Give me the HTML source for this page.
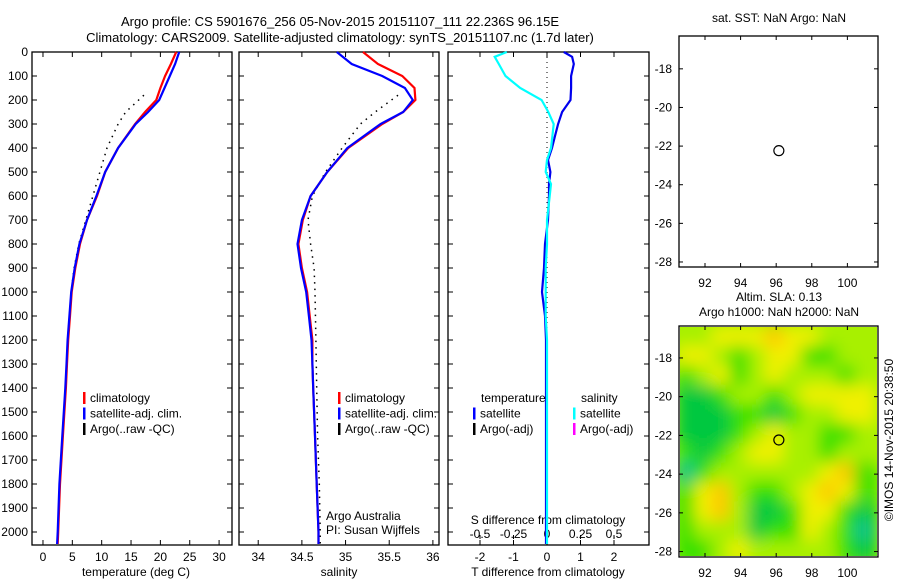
<!DOCTYPE html>
<html><head><meta charset="utf-8"><style>
html,body{margin:0;padding:0;background:#fff;}
svg{display:block;font-family:"Liberation Sans",sans-serif;}
text{font-size:12px;fill:#000;}
</style></head><body>
<svg id="fig" width="900" height="580" viewBox="0 0 900 580" xmlns="http://www.w3.org/2000/svg">
<text x="340" y="26" text-anchor="middle" style="font-size:13px">Argo profile: CS 5901676_256 05-Nov-2015 20151107_111 22.236S 96.15E</text>
<text x="340" y="42" text-anchor="middle" style="font-size:13px">Climatology: CARS2009. Satellite-adjusted climatology: synTS_20151107.nc (1.7d later)</text>
<text x="779" y="22" text-anchor="middle">sat. SST: NaN Argo: NaN</text>
<text x="779" y="301" text-anchor="middle">Altim. SLA: 0.13</text>
<text x="779" y="316" text-anchor="middle">Argo h1000: NaN h2000: NaN</text>
<text transform="translate(893,440) rotate(-90)" text-anchor="middle">©IMOS 14-Nov-2015 20:38:50</text>
<g id="g"></g>
</svg>
<script>
// ---- profile data ----
const depths      = [0,50,100,150,200,250,300,400,500,600,700,800,900,1000,1100,1200,1300,1400,1600,1800,2000,2050];
const tempClim    = [22.7,21.8,20.8,20.0,19.3,17.4,15.7,12.8,10.6,9.2,7.5,6.3,5.5,4.9,4.6,4.3,4.1,3.9,3.4,2.9,2.6,2.5];
const tempSat     = [23.2,22.5,21.6,20.7,19.8,17.9,15.8,12.8,10.6,9.1,7.5,6.2,5.4,4.8,4.5,4.2,4.0,3.8,3.3,2.8,2.5,2.4];
const argoDepths  = [180,250,300,400,500,600,700,800,900,1000,1200,1400,1600,1800,2000,2050];
const tempArgo    = [17.2,14.1,12.8,10.9,9.7,8.5,7.3,6.1,5.3,4.8,4.2,3.8,3.3,2.8,2.5,2.4];
const salClim     = [35.2,35.37,35.65,35.79,35.8,35.66,35.42,35.03,34.79,34.6,34.51,34.46,34.5,34.56,34.59,34.62,34.62,34.63,34.65,34.67,34.69,34.69];
const salSat      = [34.9,35.07,35.42,35.68,35.77,35.66,35.4,35.02,34.79,34.6,34.5,34.45,34.49,34.55,34.58,34.61,34.62,34.63,34.65,34.67,34.69,34.69];
const salArgo     = [35.6,35.34,35.17,34.96,34.77,34.62,34.57,34.6,34.64,34.65,34.66,34.67,34.68,34.7,34.71,34.71];
const diffDepths  = [0,20,50,100,150,200,250,300,350,400,450,500,550,600,700,800,900,1000,1100,1200,1600,2050];
const tDiff       = [0.5,0.75,0.8,0.72,0.72,0.7,0.45,0.33,0.24,0.15,0.03,0.1,0.06,0.06,0.03,-0.06,-0.09,-0.15,-0.06,-0.03,-0.03,-0.03];
const sDiff       = [-0.3,-0.39,-0.36,-0.31,-0.2,-0.04,0.01,0.05,0.04,0.03,0.0,-0.01,0.03,0.02,0.0,0.0,-0.01,-0.01,-0.01,0.0,0.0,0.0];
const depthTicks  = [0,100,200,300,400,500,600,700,800,900,1000,1100,1200,1300,1400,1500,1600,1700,1800,1900,2000];
const tempTicks   = [0,5,10,15,20,25,30];
const salTicks    = [34,34.5,35,35.5,36];
const tdTicks     = [-2,-1,0,1,2];
const sdTicks     = [-0.5,-0.25,0,0.25,0.5];
const lonTicks    = [92,94,96,98,100];
const latTicks    = [-18,-20,-22,-24,-26,-28];
const profLon = 96.15, profLat = -22.236;
// SLA heatmap (0 teal .. 5 orange), rows from -17 to -28, cols from 91 to 101
const slaLats = [-17,-18,-19,-20,-21,-22,-23,-24,-25,-26,-27,-28];
const slaLons = [91,92,93,94,95,96,97,98,99,100,101];
const slaGrid = [
[3,3,4,4,4,5,4,4,3,3,3],
[4,4,3,2,3,4,4,2,2,3,3],
[2,3,4,2,3,4,3,3,3,2,3],
[1,1,2,3,3,2,3,4,4,4,4],
[1,1,1,2,2,1,2,3,3,4,4],
[1,1,1,2,3,4,3,3,2,2,3],
[2,1,2,3,4,4,3,3,2,3,3],
[0,2,3,3,3,3,3,3,4,5,2],
[2,4,5,3,2,2,3,4,5,4,2],
[2,4,5,3,1,1,2,4,4,2,1],
[2,3,3,3,1,2,2,4,3,2,0],
[2,2,3,4,3,3,3,3,3,2,1]];
const slaColors = ['#00c090','#00c840','#30e000','#a8f000','#f0f000','#ffc800'];

const NS='http://www.w3.org/2000/svg';
const G=document.getElementById('g');
function el(tag,attrs,parent){const e=document.createElementNS(NS,tag);for(const k in attrs)e.setAttribute(k,attrs[k]);(parent||G).appendChild(e);return e;}
function txt(x,y,s,anchor,parent){const t=el('text',{x:x,y:y,'text-anchor':anchor||'start'},parent);t.textContent=s;return t;}

const yTop=52, pxPer100=24;
const yD=d=>yTop+d*pxPer100/100;
const yBot=545;

function panel(name,x0,x1,xmin,xmax){
  const g=el('g',{});
  
  
  const r=el('rect',{x:x0,y:yTop,width:x1-x0,height:yBot-yTop,fill:'#fff',stroke:'#000','stroke-width':1.3},g);
  
  
  const sx=v=>x0+(v-xmin)/(xmax-xmin)*(x1-x0);
  depthTicks.forEach(d=>{
    el('line',{x1:x0,x2:x0+5,y1:yD(d),y2:yD(d),stroke:'#000'},g);
    el('line',{x1:x1,x2:x1-5,y1:yD(d),y2:yD(d),stroke:'#000'},g);
  });
  return {g,sx};
}
function line(g,name,xs,ds,sx,color,w,dash){
  const pts=xs.map((v,i)=>sx(v).toFixed(1)+','+yD(ds[i]).toFixed(1)).join(' ');
  const p=el('polyline',{points:pts,fill:'none',stroke:color,'stroke-width':w},g);
  if(dash)p.setAttribute('stroke-dasharray',dash);
  
  
}
depthTicks.forEach(d=>{const t=txt(28,yD(d)+4,String(d),'end');

});

// Panel 1 temperature
const p1=panel('temperature-panel',32,232,-1.87,32.2);
tempTicks.forEach(v=>{const x=p1.sx(v);el('line',{x1:x,x2:x,y1:yTop,y2:yTop+5,stroke:'#000'},p1.g);el('line',{x1:x,x2:x,y1:yBot,y2:yBot-5,stroke:'#000'},p1.g);txt(x,561,String(v),'middle',p1.g);});
const t1=txt(136,576,'temperature (deg C)','middle',p1.g);


line(p1.g,'temp-argo-line',tempArgo,argoDepths,p1.sx,'#000',1.5,'1.5 5');
line(p1.g,'temp-clim-line',tempClim,depths,p1.sx,'#f00',2.2);
line(p1.g,'temp-sat-line',tempSat,depths,p1.sx,'#00f',2.2);

// Panel 2 salinity
const p2=panel('salinity-panel',239,439,33.78,36.07);
salTicks.forEach(v=>{const x=p2.sx(v);el('line',{x1:x,x2:x,y1:yTop,y2:yTop+5,stroke:'#000'},p2.g);el('line',{x1:x,x2:x,y1:yBot,y2:yBot-5,stroke:'#000'},p2.g);txt(x,561,String(v),'middle',p2.g);});
const t2=txt(339,576,'salinity','middle',p2.g);


line(p2.g,'sal-argo-line',salArgo,argoDepths,p2.sx,'#000',1.5,'1.5 5');
line(p2.g,'sal-clim-line',salClim,depths,p2.sx,'#f00',2.2);
line(p2.g,'sal-sat-line',salSat,depths,p2.sx,'#00f',2.2);
txt(326,520,'Argo Australia','start',p2.g);
txt(326,534,'PI: Susan Wijffels','start',p2.g);

// Panel 3 differences
const p3=panel('difference-panel',448,649,-2.0-(480-448)/33.5,2+(649-614)/33.5);
const sxS=v=>p3.sx(v*4);
tdTicks.forEach(v=>{const x=p3.sx(v);el('line',{x1:x,x2:x,y1:yBot,y2:yBot-5,stroke:'#000'},p3.g);txt(x,561,String(v),'middle',p3.g);});
sdTicks.forEach(v=>{const x=sxS(v);el('line',{x1:x,x2:x,y1:yTop,y2:yTop+5,stroke:'#000'},p3.g);el('line',{x1:x,x2:x,y1:535,y2:539,stroke:'#000'},p3.g);txt(x,538,String(v),'middle',p3.g);});
txt(548,524,'S difference from climatology','middle',p3.g);
const t3=txt(548,576,'T difference from climatology','middle',p3.g);


el('line',{x1:p3.sx(0),x2:p3.sx(0),y1:yTop,y2:yBot,stroke:'#000','stroke-dasharray':'1 4'},p3.g);
line(p3.g,'t-diff-line',tDiff,diffDepths,p3.sx,'#00e',2.2);
line(p3.g,'s-diff-line',sDiff,diffDepths,sxS,'#0ff',2.2);

function legend(x,y,items,name){
  const g=el('g',{});
  
  
  items.forEach((it,i)=>{
    if(it[1]) el('rect',{x:x,y:y+i*15.5-10,width:2.5,height:12,fill:it[1]},g);
    txt(x+(it[1]?7:8),y+i*15.5,it[0],'start',g);
  });
}
legend(83,402,[['climatology','#f00'],['satellite-adj. clim.','#00f'],['Argo(..raw -QC)','#000']],'temperature-legend');
legend(338,402,[['climatology','#f00'],['satellite-adj. clim.','#00f'],['Argo(..raw -QC)','#000']],'salinity-legend');
legend(473,402,[['temperature',null],['satellite','#00f'],['Argo(-adj)','#000']],'t-diff-legend');
legend(573,402,[['salinity',null],['satellite','#0ff'],['Argo(-adj)','#f0f']],'s-diff-legend');

function map(name,y0,y1,latTop,latBot){
  const x0=679,x1=878,lonL=90.54,lonR=101.72;
  const sx=v=>x0+(v-lonL)/(lonR-lonL)*(x1-x0);
  const sy=v=>y0+(latTop-v)/(latTop-latBot)*(y1-y0);
  const g=el('g',{});
  
  
  return {g,sx,sy,x0,x1,y0,y1};
}
function frame(m,labelY){
  el('rect',{x:m.x0,y:m.y0,width:m.x1-m.x0,height:m.y1-m.y0,fill:'none',stroke:'#000','stroke-width':1.3},m.g);
  lonTicks.forEach(v=>{const x=m.sx(v);el('line',{x1:x,x2:x,y1:m.y0,y2:m.y0+4,stroke:'#000'},m.g);el('line',{x1:x,x2:x,y1:m.y1,y2:m.y1-4,stroke:'#000'},m.g);txt(x,labelY,String(v),'middle',m.g);});
  latTicks.forEach(v=>{const y=m.sy(v);el('line',{x1:m.x0,x2:m.x0+4,y1:y,y2:y,stroke:'#000'},m.g);el('line',{x1:m.x1,x2:m.x1-4,y1:y,y2:y,stroke:'#000'},m.g);txt(m.x0-7,y+4,String(v),'end',m.g);});
  const c=el('circle',{cx:m.sx(profLon),cy:m.sy(profLat),r:5,fill:'none',stroke:'#000','stroke-width':1.2},m.g);
  
  
}
const m1=map('sst-map',36,267,-16.3,-28.26);
el('rect',{x:679,y:36,width:199,height:231,fill:'#fff'},m1.g);
frame(m1,287);

const m2=map('sla-map',326,557,-16.35,-28.28);
const defs=el('defs',{});
const f=el('filter',{id:'bl',x:'-10%',y:'-10%',width:'120%',height:'120%'},defs);
el('feGaussianBlur',{stdDeviation:8},f);
const cp=el('clipPath',{id:'cp'},defs);
el('rect',{x:680,y:327,width:197,height:229},cp);
const hg=el('g',{'clip-path':'url(#cp)'},m2.g);
el('rect',{x:679,y:326,width:199,height:231,fill:'#a8f000'},hg);
const hb=el('g',{filter:'url(#bl)'},hg);
slaLats.forEach((la,i)=>slaLons.forEach((lo,j)=>{
  const x=m2.sx(lo-0.5),y=m2.sy(la+0.5);
  const r=el('rect',{x:x-2,y:y-2,width:m2.sx(lo+0.5)-x+4,height:m2.sy(la-0.5)-y+4,fill:slaColors[slaGrid[i][j]]},hb);
  
  
}));
frame(m2,577);
</script>
</body></html>
